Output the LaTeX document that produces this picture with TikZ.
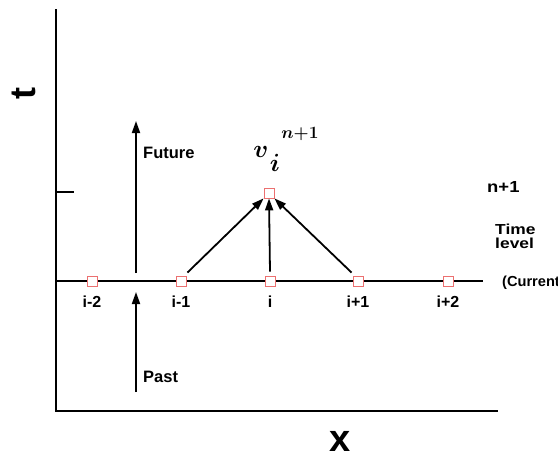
\documentclass[tikz,border=0pt]{standalone}
\usepackage{bm}
\usepackage{fontspec}
\setmainfont{Liberation Sans}
\usetikzlibrary{arrows.meta}
\definecolor{sqred}{RGB}{236,112,112}
\tikzset{
  axis/.style={line width=2pt, line cap=rect},
  arr/.style={line width=1.8pt, -{Triangle[length=12pt,width=8pt]}},
  pt/.style={draw=sqred, line width=0.8pt, fill=white, minimum size=10pt, inner sep=0pt},
  lbl/.style={font=\bfseries\fontsize{16}{18}\selectfont, inner sep=0pt},
  side/.style={font=\bfseries\fontsize{14.5}{16}\selectfont, inner sep=0pt, anchor=base west, xscale=1.2},
  hand/.style={inner sep=0pt},
}
\begin{document}
\begin{tikzpicture}[x=1pt,y=-1pt]
\useasboundingbox (0,0) rectangle (558,455);
% axes
\coordinate (otop) at (56,10);
\coordinate (o) at (56,411);
\coordinate (xend) at (497,411);
\coordinate (tick) at (73,192);
\coordinate (tick0) at (56,192);
\coordinate (lstart) at (56,281);
\coordinate (lend) at (483,281);
\draw[axis] (otop) -- (o) -- (xend);
\draw[axis] (tick0) -- (tick);
\draw[line width=1.8pt] (lstart) -- (lend);
% grid points
\node[pt] (im2) at (92,281) {};
\node[pt] (im1) at (181,281) {};
\node[pt] (i) at (270,281) {};
\node[pt] (ip1) at (358,281) {};
\node[pt] (ip2) at (448,281) {};
\node[pt] (top) at (269,193) {};
% labels
\node[lbl, anchor=base] (lim2) at (92,307) {i-2};
\node[lbl, anchor=base] (lim1) at (181,307) {i-1};
\node[lbl, anchor=base] (li) at (270,307) {i};
\node[lbl, anchor=base] (lip1) at (358,307) {i+1};
\node[lbl, anchor=base] (lip2) at (448,307) {i+2};
% future / past
\coordinate (fbot) at (136,273);
\coordinate (ftop) at (136,121);
\coordinate (pbot) at (136,392);
\coordinate (ptop) at (136,292);
\draw[arr] (fbot) -- (ftop);
\draw[arr] (pbot) -- (ptop);
\node[lbl, anchor=base west, font=\bfseries\fontsize{16.5}{18}\selectfont] (fut) at (143,158) {Future};
\node[lbl, anchor=base west, font=\bfseries\fontsize{16.5}{18}\selectfont] (past) at (143,382) {Past};
% arrows to top
\draw[arr] (im1.north east) ++(1,-3) coordinate (a1) (a1) -- (top.south west);
\draw[arr] (i.north) ++(0,-4) coordinate (a2) (a2) -- (top.south);
\draw[arr] (ip1.north west) ++(-1,-3) coordinate (a3) (a3) -- (top.south east);
% handwritten value
\node[hand, font=\fontsize{34}{36}\selectfont] (v) at (261,152) {$\bm{v}$};
\node[hand, font=\fontsize{24}{26}\selectfont] (vi) at (275,163) {$\bm{i}$};
\node[hand, font=\fontsize{17}{18}\selectfont] (vsup) at (300,134) {$\bm{n{+}1}$};
% right side
\node[side, font=\bfseries\fontsize{16}{18}\selectfont, xscale=0.96] (n1) at (487,192) {n+1};
\node[side] (time) at (495,234) {Time};
\node[side] (level) at (495,248) {level};
\node[side, xscale=0.84] (cur) at (502,286) {(Current};
% axis titles
\node[inner sep=0pt, rotate=90, font=\bfseries\fontsize{36}{38}\selectfont] (tl) at (24,94) {t};
\node[inner sep=0pt, anchor=base, font=\bfseries\fontsize{38}{40}\selectfont] (xl) at (340,451) {x};
\end{tikzpicture}
\end{document}
